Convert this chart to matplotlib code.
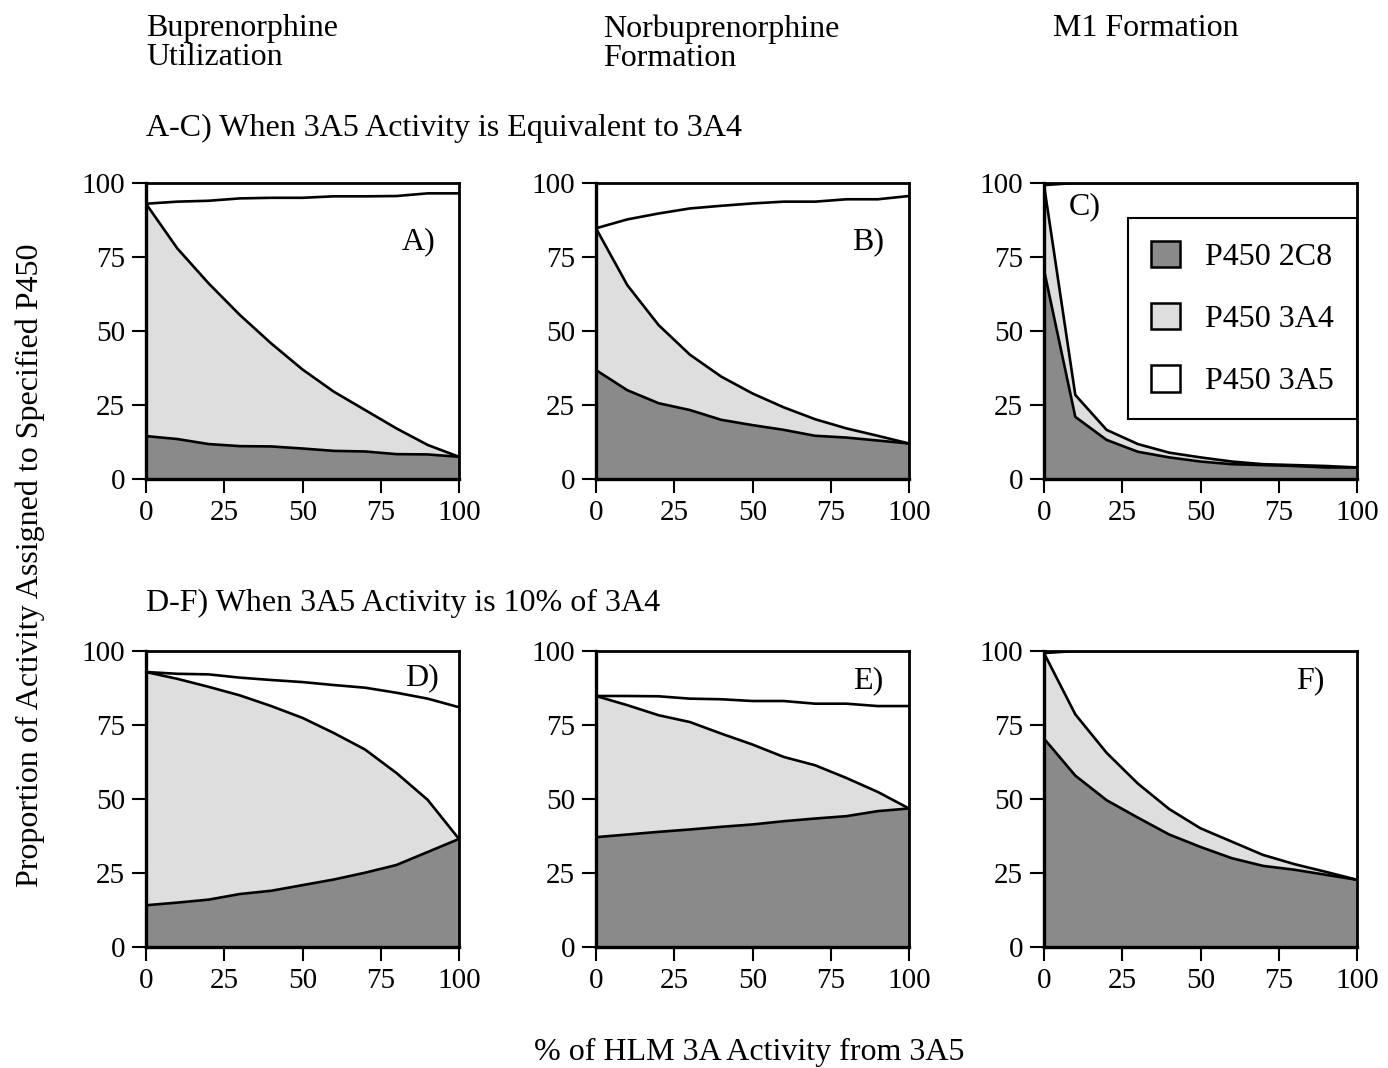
import numpy as np
import matplotlib
matplotlib.use("Agg")
import matplotlib.pyplot as plt
from matplotlib.patches import Patch

plt.rcParams["font.family"] = ["Liberation Serif", "DejaVu Serif"]

# x: % of HLM 3A activity from 3A5
PCT = [0, 10, 20, 30, 40, 50, 60, 70, 80, 90, 100]

# cumulative boundaries: 2C8 (bottom), 2C8+3A4 (middle), 2C8+3A4+3A5 (top)
A_2C8 = [14.5, 13.5, 11.8, 11.1, 11.0, 10.3, 9.5, 9.3, 8.4, 8.3, 7.5]
A_3A4 = [93.0, 77.9, 66.1, 55.4, 45.8, 37.0, 29.5, 23.3, 17.1, 11.5, 7.5]
A_TOP = [93.0, 93.7, 94.0, 94.8, 95.0, 95.0, 95.5, 95.5, 95.6, 96.5, 96.5]

B_2C8 = [36.8, 30.0, 25.6, 23.3, 20.0, 18.2, 16.6, 14.6, 14.0, 13.0, 12.0]
B_3A4 = [84.7, 65.5, 52.0, 42.0, 34.6, 28.9, 24.2, 20.2, 17.1, 14.6, 12.0]
B_TOP = [84.7, 87.7, 89.7, 91.4, 92.3, 93.1, 93.7, 93.7, 94.5, 94.5, 95.6]

C_2C8 = [70.6, 21.0, 13.2, 9.2, 7.3, 5.9, 5.0, 4.7, 4.4, 3.9, 3.9]
C_3A4 = [99.3, 28.4, 16.6, 11.8, 8.9, 7.3, 5.9, 5.0, 4.7, 4.4, 3.9]
C_TOP = [99.3, 100, 100, 100, 100, 100, 100, 100, 100, 100, 100]

D_2C8 = [14.1, 15.0, 16.0, 17.9, 19.0, 20.9, 22.8, 25.1, 27.7, 32.1, 36.5]
D_3A4 = [92.9, 90.6, 87.9, 85.0, 81.4, 77.4, 72.3, 66.7, 58.8, 49.7, 36.5]
D_TOP = [92.9, 92.3, 92.1, 91.0, 90.2, 89.5, 88.5, 87.6, 85.9, 83.9, 81.0]

E_2C8 = [37.1, 38.0, 38.9, 39.7, 40.6, 41.4, 42.5, 43.4, 44.2, 45.9, 46.8]
E_3A4 = [84.8, 81.7, 78.3, 76.0, 72.1, 68.4, 64.2, 61.4, 57.1, 52.4, 46.8]
E_TOP = [84.8, 84.8, 84.7, 83.9, 83.7, 83.1, 83.1, 82.2, 82.2, 81.4, 81.4]

F_2C8 = [70.4, 57.9, 49.6, 43.7, 38.0, 33.8, 30.0, 27.4, 26.1, 24.4, 22.7]
F_3A4 = [99.3, 78.6, 65.6, 55.2, 46.6, 40.1, 35.6, 31.1, 28.0, 25.4, 22.7]
F_TOP = [99.3, 100, 100, 100, 100, 100, 100, 100, 100, 100, 100]

PANELS = [("A)", A_2C8, A_3A4, A_TOP, (87, 80)),
          ("B)", B_2C8, B_3A4, B_TOP, (87, 80)),
          ("C)", C_2C8, C_3A4, C_TOP, (13, 92)),
          ("D)", D_2C8, D_3A4, D_TOP, (88, 91)),
          ("E)", E_2C8, E_3A4, E_TOP, (87, 90)),
          ("F)", F_2C8, F_3A4, F_TOP, (85, 90))]

COL_HEAD = ["Buprenorphine\nUtilization", "Norbuprenorphine\nFormation", "M1 Formation"]
ROW_HEAD = ["A-C) When 3A5 Activity is Equivalent to 3A4",
            "D-F) When 3A5 Activity is 10% of 3A4"]
LEGEND = ["P450 2C8", "P450 3A4", "P450 3A5"]

DARK, LIGHT = "#8a8a8a", "#dedede"
W, H = 1388, 1068
FS = 21      # tick labels
FT = 23      # all other text


def fx(px): return px / W
def fy(py): return 1 - py / H


fig = plt.figure(figsize=(W / 100, H / 100), dpi=100)
lefts = [146, 596, 1044]
tops = [183, 651]
aw, ah = 313, 296

x = np.array(PCT)
axes = []
for i, (lab, b, m, t, lpos) in enumerate(PANELS):
    r, c = divmod(i, 3)
    ax = fig.add_axes([fx(lefts[c]), fy(tops[r] + ah), aw / W, ah / H])
    ax.fill_between(x, 0, b, color=DARK, lw=0)
    ax.fill_between(x, b, m, color=LIGHT, lw=0)
    for y in (b, m, t):
        ax.plot(x, y, color="k", lw=1.9, solid_joinstyle="round")
    ax.set_xlim(0, 100); ax.set_ylim(0, 100)
    ax.set_xticks([0, 25, 50, 75, 100]); ax.set_yticks([0, 25, 50, 75, 100])
    ax.tick_params(direction="out", length=10, width=1.5, labelsize=FS, pad=5)
    for s in ax.spines.values():
        s.set_linewidth(2.0)
    ax.spines["left"].set_linewidth(2.4); ax.spines["bottom"].set_linewidth(2.4)
    ax.text(*lpos, lab, fontsize=FT, ha="center", va="center")
    axes.append(ax)

handles = [Patch(facecolor=DARK, edgecolor="k", lw=1.8),
           Patch(facecolor=LIGHT, edgecolor="k", lw=1.8),
           Patch(facecolor="white", edgecolor="k", lw=1.8)]
leg = axes[2].legend(handles, LEGEND, loc="upper right", bbox_to_anchor=(1.0, 0.883),
                     fontsize=FT, frameon=True, fancybox=False, framealpha=1,
                     handlelength=0.9, handleheight=0.9, handletextpad=0.8,
                     labelspacing=0.97, borderpad=0.72, borderaxespad=0)
leg.get_frame().set_edgecolor("k"); leg.get_frame().set_linewidth(1.5)

for c, txt in enumerate(COL_HEAD):
    fig.text(fx([146, 603, 1053][c]), fy(14), txt, fontsize=FT, ha="left", va="top",
             linespacing=1.0)
fig.text(fx(146), fy(128), ROW_HEAD[0], fontsize=FT, ha="left", va="center")
fig.text(fx(146), fy(603), ROW_HEAD[1], fontsize=FT, ha="left", va="center")
fig.text(fx(30), fy(565), "Proportion of Activity Assigned to Specified P450",
         fontsize=FT, rotation=90, ha="center", va="center")
fig.text(fx(749), fy(1052), "% of HLM 3A Activity from 3A5", fontsize=FT,
         ha="center", va="center")

fig.savefig("out.png", dpi=100)
